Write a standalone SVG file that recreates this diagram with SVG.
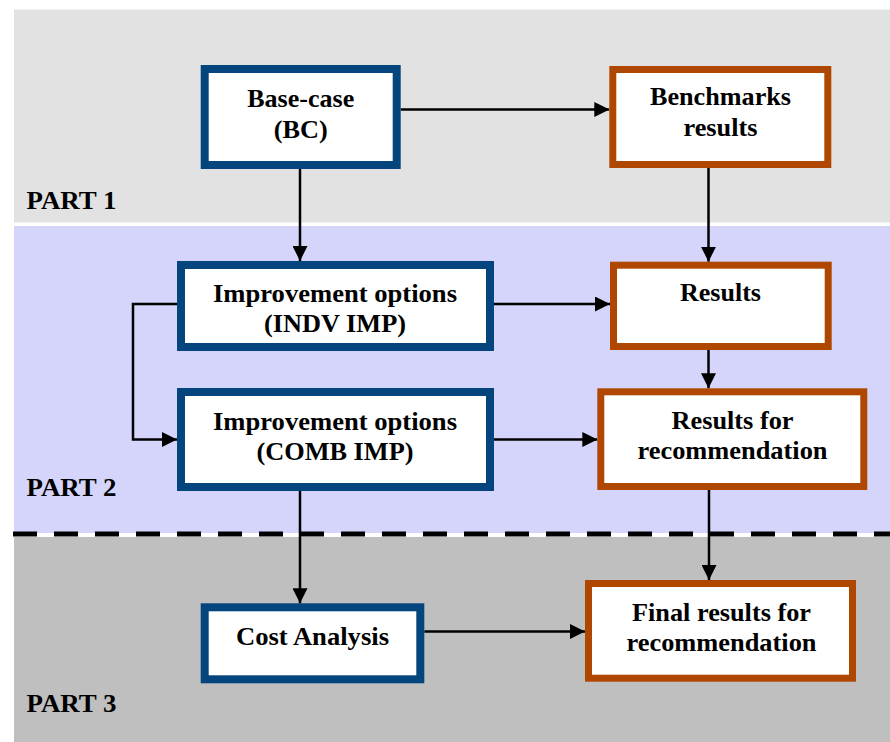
<svg xmlns="http://www.w3.org/2000/svg" width="890" height="742" viewBox="0 0 890 742">
<style>
text{font-family:'Liberation Serif','DejaVu Serif',serif;font-weight:700;fill:#000}
.t{font-size:26px;text-anchor:middle}
.p{font-size:25px}
.b{fill:#fff;stroke:#03457C;stroke-width:8}
.o{fill:#fff;stroke:#B04700;stroke-width:7}
.c{fill:none;stroke:#000;stroke-width:2.5;marker-end:url(#ah)}
</style>
<defs>
<marker id="ah" markerUnits="userSpaceOnUse" markerWidth="15" markerHeight="15" refX="15" refY="7.5" orient="auto">
<path d="M0,0 L15,7.5 L0,15 Z" fill="#000"/>
</marker>
</defs>
<rect width="890" height="742" fill="#fff"/>
<g id="bands">
<rect x="14" y="9.5" width="876" height="213" fill="#e2e2e2"/>
<rect x="14" y="226" width="876" height="307" fill="#d5d5fb"/>
<rect x="14" y="537" width="876" height="205" fill="#bfbfbf"/>
<line x1="13" y1="534" x2="890" y2="534" stroke="#000" stroke-width="5" stroke-dasharray="24 17"/>
<text class="p" x="26.5" y="209" textLength="90" lengthAdjust="spacingAndGlyphs">PART 1</text>
<text class="p" x="26.5" y="496" textLength="90" lengthAdjust="spacingAndGlyphs">PART 2</text>
<text class="p" x="26.5" y="712" textLength="90" lengthAdjust="spacingAndGlyphs">PART 3</text>
</g>
<g id="connectors">
<line class="c" x1="400.7" y1="109.5" x2="609.3" y2="109.5"/>
<line class="c" x1="300" y1="169" x2="300" y2="261"/>
<line class="c" x1="708.5" y1="168" x2="708.5" y2="261.7"/>
<line class="c" x1="494" y1="304" x2="610" y2="304"/>
<polyline class="c" points="177,304 133,304 133,439.5 177,439.5"/>
<line class="c" x1="494" y1="439.5" x2="597.3" y2="439.5"/>
<line class="c" x1="708.5" y1="350" x2="708.5" y2="388.3"/>
<line class="c" x1="709" y1="490" x2="709" y2="580"/>
<line class="c" x1="300" y1="491" x2="300" y2="603.3"/>
<line class="c" x1="424.3" y1="631.5" x2="585" y2="631.5"/>
</g>
<g id="base-case">
<rect class="b" x="204.7" y="69" width="192" height="96"/>
<text class="t" x="300.7" y="107" textLength="107" lengthAdjust="spacingAndGlyphs">Base-case</text>
<text class="t" x="300.7" y="138" textLength="54" lengthAdjust="spacingAndGlyphs">(BC)</text>
</g>
<g id="benchmarks">
<rect class="o" x="612.8" y="69.5" width="215" height="95"/>
<text class="t" x="720.5" y="105" textLength="141" lengthAdjust="spacingAndGlyphs">Benchmarks</text>
<text class="t" x="720.5" y="136" textLength="74" lengthAdjust="spacingAndGlyphs">results</text>
</g>
<g id="indv-imp">
<rect class="b" x="181" y="265" width="309" height="82"/>
<text class="t" x="335" y="302" textLength="244" lengthAdjust="spacingAndGlyphs">Improvement options</text>
<text class="t" x="335" y="332" textLength="142" lengthAdjust="spacingAndGlyphs">(INDV IMP)</text>
</g>
<g id="comb-imp">
<rect class="b" x="181" y="392" width="309" height="95"/>
<text class="t" x="335" y="429.5" textLength="244" lengthAdjust="spacingAndGlyphs">Improvement options</text>
<text class="t" x="335" y="459.5" textLength="157" lengthAdjust="spacingAndGlyphs">(COMB IMP)</text>
</g>
<g id="results">
<rect class="o" x="613.5" y="265.2" width="214.7" height="81.3"/>
<text class="t" x="720.5" y="300.7" textLength="81" lengthAdjust="spacingAndGlyphs">Results</text>
</g>
<g id="results-rec">
<rect class="o" x="600.8" y="391.8" width="263" height="94.7"/>
<text class="t" x="732.5" y="429" textLength="122" lengthAdjust="spacingAndGlyphs">Results for</text>
<text class="t" x="732.5" y="459" textLength="190" lengthAdjust="spacingAndGlyphs">recommendation</text>
</g>
<g id="cost-analysis">
<rect class="b" x="204.7" y="607.3" width="215.6" height="72"/>
<text class="t" x="312.5" y="645" textLength="153" lengthAdjust="spacingAndGlyphs">Cost Analysis</text>
</g>
<g id="final-results">
<rect class="o" x="588.5" y="583.5" width="264" height="94.7"/>
<text class="t" x="721.5" y="620.7" textLength="179" lengthAdjust="spacingAndGlyphs">Final results for</text>
<text class="t" x="721.5" y="651" textLength="190" lengthAdjust="spacingAndGlyphs">recommendation</text>
</g>
</svg>
